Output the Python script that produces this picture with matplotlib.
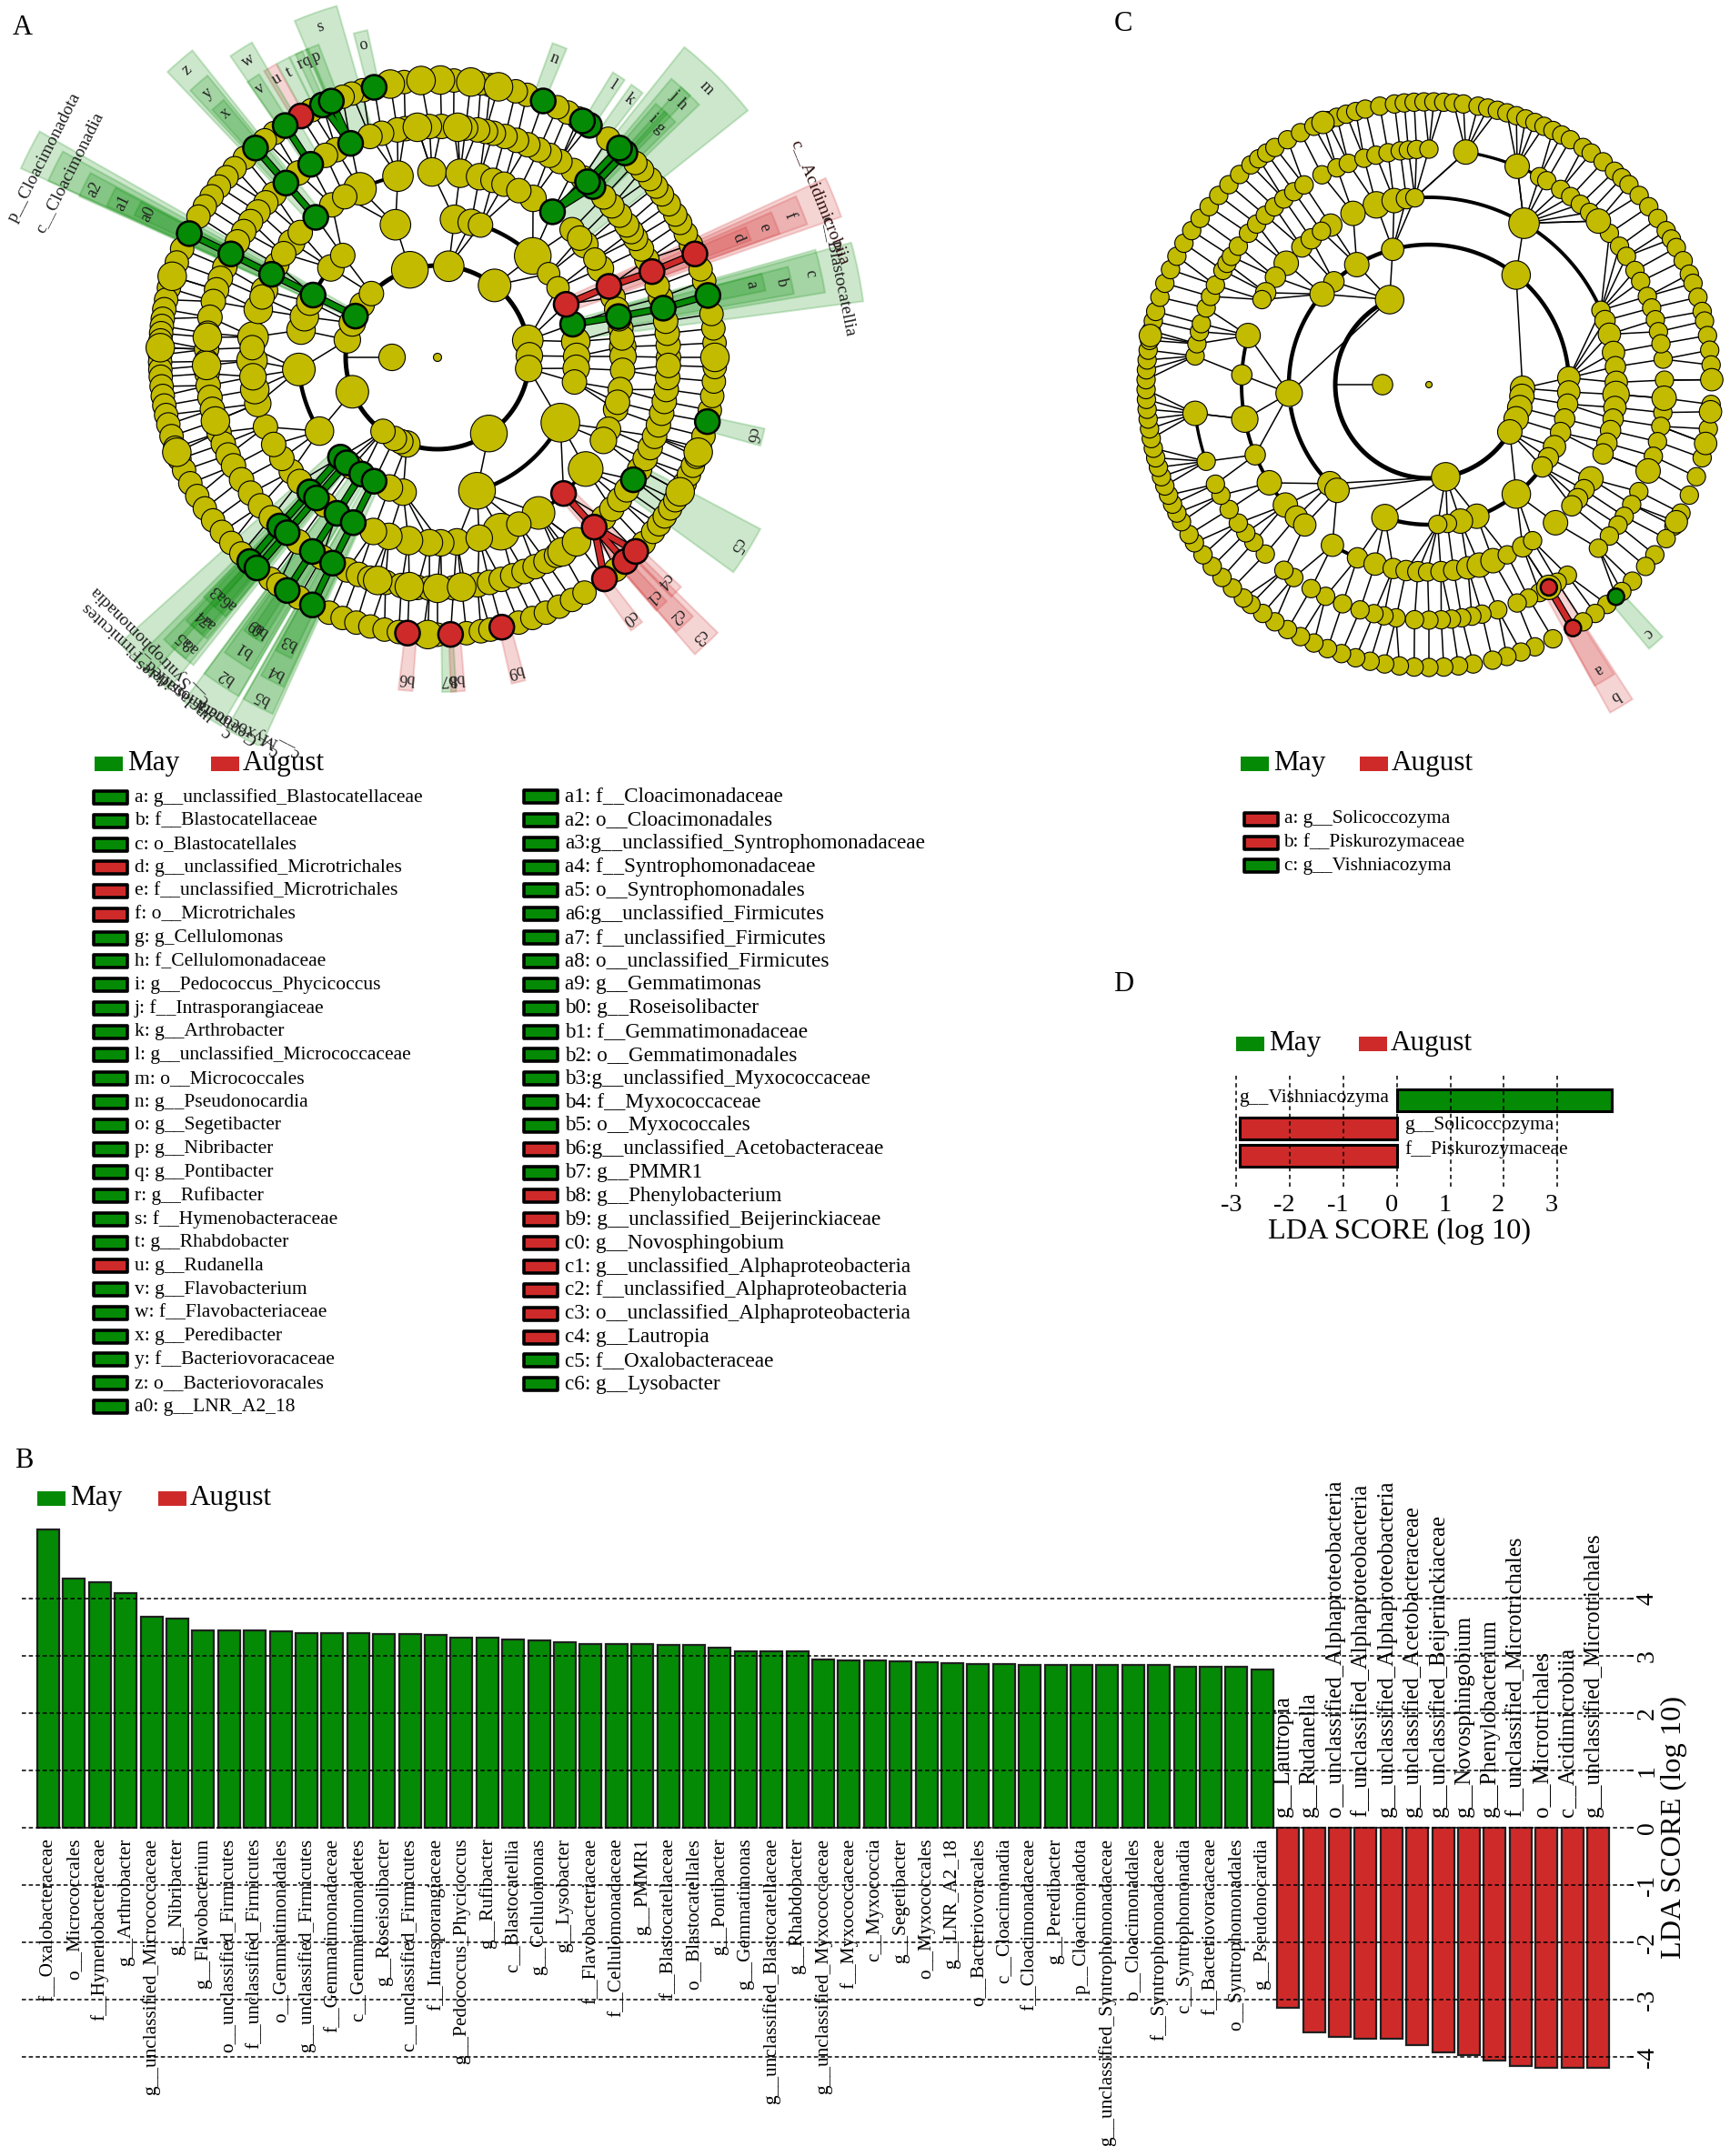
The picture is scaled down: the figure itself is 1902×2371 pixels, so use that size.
import numpy as np
import matplotlib
matplotlib.use('Agg')
import matplotlib.pyplot as plt
from matplotlib.patches import Circle, Wedge, Rectangle
from matplotlib.transforms import ScaledTranslation

plt.rcParams['font.family'] = ['Liberation Serif', 'DejaVu Serif']
plt.rcParams['axes.unicode_minus'] = False

W, H = 1902, 2371
GREEN = '#058a05'
RED = '#cf2a2a'
YELLOW = '#c2bb00'

# panel B
b_labels = ['f__Oxalobacteraceae', 'o__Micrococcales', 'f__Hymenobacteraceae', 'g__Arthrobacter',
            'g__unclassified_Micrococcaceae', 'g__Nibribacter', 'g__Flavobacterium', 'o__unclassified_Firmicutes',
            'f__unclassified_Firmicutes', 'o__Gemmatimonadales', 'g__unclassified_Firmicutes', 'f__Gemmatimonadaceae',
            'c__Gemmatimonadetes', 'g__Roseisolibacter', 'c__unclassified_Firmicutes', 'f__Intrasporangiaceae',
            'g__Pedococcus_Phycicoccus', 'g__Rufibacter', 'c__Blastocatellia', 'g__Cellulomonas', 'g__Lysobacter',
            'f__Flavobacteriaceae', 'f__Cellulomonadaceae', 'g__PMMR1', 'f__Blastocatellaceae', 'o__Blastocatellales',
            'g__Pontibacter', 'g__Gemmatimonas', 'g__unclassified_Blastocatellaceae', 'g__Rhabdobacter',
            'g__unclassified_Myxococcaceae', 'f__Myxococcaceae', 'c__Myxococcia', 'g__Segetibacter', 'o__Myxococcales',
            'g__LNR_A2_18', 'o__Bacteriovoracales', 'c__Cloacimonadia', 'f__Cloacimonadaceae', 'g__Peredibacter',
            'p__Cloacimonadota', 'g__unclassified_Syntrophomonadaceae', 'o__Cloacimonadales', 'f__Syntrophomonadaceae',
            'c__Syntrophomonadia', 'f__Bacteriovoracaceae', 'o__Syntrophomonadales', 'g__Pseudonocardia']
b_values = [5.22, 4.35, 4.29, 4.10, 3.69, 3.66, 3.45, 3.45, 3.45, 3.43, 3.41, 3.41, 3.41, 3.39, 3.38, 3.37,
            3.33, 3.32, 3.29, 3.27, 3.24, 3.22, 3.22, 3.21, 3.19, 3.19, 3.15, 3.09, 3.09, 3.08, 2.94, 2.93,
            2.93, 2.91, 2.90, 2.88, 2.86, 2.86, 2.85, 2.84, 2.84, 2.84, 2.84, 2.84, 2.82, 2.82, 2.81, 2.77]
b_red_labels = ['g__Lautropia', 'g__Rudanella', 'o__unclassified_Alphaproteobacteria',
                'f__unclassified_Alphaproteobacteria', 'g__unclassified_Alphaproteobacteria',
                'g__unclassified_Acetobacteraceae', 'g__unclassified_Beijerinckiaceae', 'g__Novosphingobium',
                'g__Phenylobacterium', 'f__unclassified_Microtrichales', 'o__Microtrichales', 'c__Acidimicrobiia',
                'g__unclassified_Microtrichales']
b_red_values = [-3.14, -3.56, -3.64, -3.67, -3.68, -3.78, -3.92, -3.96, -4.06, -4.16, -4.18, -4.18, -4.19]

# panel D
d_labels = ['g__Vishniacozyma', 'g__Solicoccozyma', 'f__Piskurozymaceae']
d_values = [4.02, -2.93, -2.93]

# legend of panel A, colour code: g May, r August
leg1 = ['a: g__unclassified_Blastocatellaceae', 'b: f__Blastocatellaceae', 'c: o_Blastocatellales',
        'd: g__unclassified_Microtrichales', 'e: f__unclassified_Microtrichales', 'f: o__Microtrichales',
        'g: g_Cellulomonas', 'h: f_Cellulomonadaceae', 'i: g__Pedococcus_Phycicoccus', 'j: f__Intrasporangiaceae',
        'k: g__Arthrobacter', 'l: g__unclassified_Micrococcaceae', 'm: o__Micrococcales', 'n: g__Pseudonocardia',
        'o: g__Segetibacter', 'p: g__Nibribacter', 'q: g__Pontibacter', 'r: g__Rufibacter', 's: f__Hymenobacteraceae',
        't: g__Rhabdobacter', 'u: g__Rudanella', 'v: g__Flavobacterium', 'w: f__Flavobacteriaceae', 'x: g__Peredibacter',
        'y: f__Bacteriovoracaceae', 'z: o__Bacteriovoracales', 'a0: g__LNR_A2_18']
leg1_col = 'gggrrrggggggggggggggrgggggg'
leg2 = ['a1: f__Cloacimonadaceae', 'a2: o__Cloacimonadales', 'a3:g__unclassified_Syntrophomonadaceae',
        'a4: f__Syntrophomonadaceae', 'a5: o__Syntrophomonadales', 'a6:g__unclassified_Firmicutes',
        'a7: f__unclassified_Firmicutes', 'a8: o__unclassified_Firmicutes', 'a9: g__Gemmatimonas', 'b0: g__Roseisolibacter',
        'b1: f__Gemmatimonadaceae', 'b2: o__Gemmatimonadales', 'b3:g__unclassified_Myxococcaceae', 'b4: f__Myxococcaceae',
        'b5: o__Myxococcales', 'b6:g__unclassified_Acetobacteraceae', 'b7: g__PMMR1', 'b8: g__Phenylobacterium',
        'b9: g__unclassified_Beijerinckiaceae', 'c0: g__Novosphingobium', 'c1: g__unclassified_Alphaproteobacteria',
        'c2: f__unclassified_Alphaproteobacteria', 'c3: o__unclassified_Alphaproteobacteria', 'c4: g__Lautropia',
        'c5: f__Oxalobacteraceae', 'c6: g__Lysobacter']
leg2_col = 'gggggggggggggggrgrrrrrrrgg'
leg_c = ['a: g__Solicoccozyma', 'b: f__Piskurozymaceae', 'c: g__Vishniacozyma']
leg_c_col = 'rrg'

# cladogram A: ring radii, yellow nodes as angle (deg) and node radius
a_radii = [0, 50, 101, 153, 204, 254, 305]
a_ring2 = [10.7, 1, 353, 304, 250.5, 246.5, 242, 233.6, 202, 169, 158, 145, 136, 107.5, 83, 51.6]
a_ring2_size = [15, 13, 13, 18, 13, 12, 12, 12, 16, 13, 13, 12, 12, 18, 15, 16]
a_ring3 = [46.8, 6.5, 0.4, 355.5, 349.8, 332, 286.5, 255.7, 249.8, 232, 212, 185, 168.7, 163, 156.6, 140, 132.9, 107.6,
           83, 76, 72, 37, 30]
a_ring3_size = [18, 14, 13, 13, 12, 19, 18, 13, 13, 12, 14, 16, 14, 14, 13, 13, 12, 15, 14, 13, 12, 11, 11]
a_ring4 = [114.7, 102.3, 91.7, 83, 76.9, 72.6, 69, 59, 43.5, 37.4, 28.6, 18.9, 15, 9, 3.3, 0.3, 356, 350, 343.7, 337.2,
           333.4, 323, 303, 290, 276, 271, 267.5, 261, 254.8, 249.8, 232.7, 218, 213, 202, 194.4, 190, 181, 173.7, 165,
           158.8, 150, 141.8, 137.7, 124.7, 120, 146, 161, 177, 186, 208, 222, 296, 283, 346, 6, 12, 32, 40, 64]
a_ring4_size = [16, 15, 14, 14, 13, 12, 12, 13, 12, 13, 13, 12, 12, 12, 13, 13, 12, 12, 12, 12, 13, 17, 16, 18, 13, 13, 13,
                14, 13, 13, 12, 12, 12, 12, 13, 14, 15, 15, 14, 13, 12, 13, 12, 12, 12, 12, 12, 12, 13, 12, 12, 12, 13,
                12, 12, 12, 11, 12, 12]
a_ring5 = [0, 3, 6, 9, 15, 18, 25, 28, 31, 33, 35, 38, 41, 44, 51, 54, 58, 61, 64, 67, 70, 73, 76, 78, 80, 83, 86, 89, 92,
           95, 98, 100, 104, 107, 116, 119, 127, 135, 138, 141, 144, 147, 150, 157, 160, 163, 166, 170, 174, 178, 181,
           184, 187, 190, 193, 196, 199, 202, 205, 208, 212, 216, 220, 224, 233, 240, 247, 250, 253, 257, 261, 265, 268,
           271, 274, 277, 280, 283, 286, 289, 292, 295, 298, 301, 304, 307, 316, 319, 322, 325, 331, 334, 337, 340, 343,
           346, 349, 352, 355, 358]
a_ring5_big = [85, 95, 255, 263, 270, 276, 302.6, 307, 175, 182, 196]
a_ring6 = [3, 6, 9, 16, 18.5, 24, 26.5, 29, 31, 33.5, 36, 38, 40, 42.5, 44.5, 52, 59.5, 62, 64.4, 71.2, 73.6, 79, 81, 86.6,
           96.9, 105.6, 108, 110, 117, 126, 128.5, 134, 137, 139.5, 142, 144.5, 147, 149.5, 157, 160, 163, 165.5, 168, 170,
           172, 173.5, 175, 176.5, 178, 179.5, 181, 182.5, 184, 186, 188, 190, 192, 194, 196.5, 199, 201.5, 204, 207, 210,
           213, 216, 219, 222, 225, 233, 235, 240, 247, 250, 253, 256, 259, 262, 267, 270, 276, 279, 281, 287, 290, 293,
           296, 299, 302, 310, 318, 321, 323, 325, 327, 329, 331, 333, 335, 337, 339, 341, 343.5, 349, 352, 355, 358]
a_ring6_big = [89.4, 83.1, 93.4, 77.3, 99.8, 0, 163, 178, 200, 268, 331, 340]
a_arcs_ring = [2, 3, 3, 3, 3, 3, 4, 4, 4]
a_arcs_from = [0, 22, 286, 135, 186, 225, 102, 290, 29]
a_arcs_to = [360, 72, 332, 170, 212, 256, 115, 323, 44]
# coloured nodes: ring index, angle, colour
a_hit_ring = [6, 5, 4, 3, 6, 5, 4, 3, 6, 6, 5, 5, 4, 6, 6, 6, 6, 6, 6, 5, 6, 6, 5, 6, 5, 4, 6, 5, 4, 3, 2, 6, 6, 5, 5, 4, 4, 3,
              3, 6, 5, 4, 3, 6, 5, 4, 3, 6, 6, 6, 6, 6, 6, 5, 4, 6, 5]
a_hit_angle = [12.9, 12.3, 12.7, 13.8, 21.9, 21.8, 22.5, 22.4, 47.5, 49, 47.7, 49.5, 51.7, 56.8, 58.5, 67.6, 103.2, 114.5,
               112.5, 112.1, 119.5, 123.3, 123.3, 131, 131, 131, 153.5, 153.4, 153.4, 153.4, 153.3, 227.4, 229.4, 226.9,
               229.4, 226.5, 229.3, 225.8, 229.3, 237.2, 237.2, 237.2, 237, 243.2, 243, 243, 242.9, 263.8, 272.7, 283.4,
               307, 312.6, 315.6, 312.7, 312.8, 346.6, 328]
a_hit_col = 'gggg' + 'rrrr' + 'g' * 12 + 'r' + 'g' * 26 + 'r' * 8 + 'gg'
# shaded clades: label, angle, half width, inner and outer radius, colour, label radius
a_cl_label = ['a', 'b', 'c', 'c__Blastocatellia', 'd', 'e', 'f', 'c__Acidimicrobiia', 'g', 'h', 'i', 'j', 'k', 'l', 'm', 'n', 'o',
              'p', 'q', 'r', 's', 't', 'u', 'v', 'w', 'x', 'y', 'z', 'a0', 'a1', 'a2', 'c__Cloacimonadia', 'p__Cloacimonadota',
              'a3', 'a4', 'a5', 'a6', 'a7', 'a8', 'c__Syntrophomonadia', 'c__unclassified_Firmicutes', 'a9', 'b0', 'b1', 'b2',
              'c__Gemmatimonadetes', 'b3', 'b4', 'b5', 'c__Myxococcia', 'b6', 'b7', 'b8', 'b9', 'c0', 'c1', 'c2', 'c3', 'c4', 'c5', 'c6']
a_cl_angle = [13, 12.3, 12.7, 11.5, 21.7, 21.7, 22, 22, 46, 46, 48, 48, 53.4, 57.2, 45, 68.6, 103.3, 112, 113.9, 115, 109.5,
              117.5, 120, 123.4, 122.5, 131, 131, 131, 153.6, 153.8, 153.9, 153.4, 153, 227, 228, 228, 229.5, 229, 229.5, 225,
              228, 236, 237, 236.7, 236.6, 236.6, 242.6, 243, 242.8, 243, 264.5, 272, 273.5, 284, 306.5, 312, 312.8, 313.2,
              315.5, 328, 346.2]
a_cl_half = [1.5, 2.2, 3.2, 4, 1.2, 1.8, 2.2, 2.8, 1.3, 2, 1.3, 2, 1.2, 1.2, 6.5, 1.3, 1.2, 1.2, 1.2, 1.2, 3.5, 1.2, 1.2, 1.2, 2,
             1.3, 1.8, 2.4, 1.3, 1.6, 1.9, 2.2, 2.6, 1.3, 1.7, 2.1, 1.3, 1.7, 2.1, 3, 3, 1.3, 1.3, 2.5, 3, 3, 1.5, 2, 2.4, 2.6, 1.2,
             1.2, 1.2, 1.2, 1.2, 1.2, 1.8, 2.3, 1.2, 4, 1.5]
a_cl_in = [305, 254, 204, 153, 305, 254, 204, 153, 305, 254, 305, 254, 305, 305, 204, 305, 305, 305, 305, 305, 254, 305,
           305, 305, 254, 305, 254, 204, 305, 254, 204, 153, 101, 305, 254, 204, 305, 254, 204, 153, 153, 305, 305, 254, 204,
           153, 305, 254, 204, 153, 305, 305, 305, 305, 305, 305, 254, 204, 305, 254, 305]
a_cl_out = [368, 398, 432, 472, 368, 400, 432, 470, 368, 400, 368, 400, 368, 368, 436, 368, 368, 368, 368, 368, 402, 368,
            368, 368, 402, 368, 400, 432, 368, 400, 432, 470, 503, 368, 400, 432, 368, 400, 432, 470, 470, 368, 368, 400, 432,
            470, 368, 400, 432, 470, 368, 368, 368, 368, 368, 368, 400, 432, 368, 402, 368]
a_cl_lr = [354, 387, 420, 450, 355, 386, 417, 454, 351, 386, 354, 388, 354, 356, 419, 353, 353, 356, 356, 356, 386, 353, 353,
           354, 387, 355, 385, 419, 355, 385, 420, 453, 485, 353, 384, 417, 353, 384, 417, 448, 462, 356, 356, 384, 420, 462,
           352, 388, 420, 458, 354, 354, 354, 355, 355, 354, 387, 421, 350, 389, 356]
a_cl_col = 'gggg' + 'rrrr' + 'g' * 14 + 'r' + 'g' * 27 + 'r' + 'g' + 'r' * 7 + 'gg'

# cladogram C
c_radii = [0, 51, 103, 154, 206, 259, 311]
c_ring2 = [114.8, 280.3, 357.8, 352.8, 345.8, 338.6, 329.7]
c_ring2_size = [14, 14, 12, 12, 12, 12, 12]
c_ring3 = [183.5, 105, 121, 132.7, 139.7, 51.5, 2.8, 357, 352, 345.8, 340, 333.7, 328.5, 324, 308.6, 290, 283, 277.6, 273.6,
           251.7, 225, 229]
c_ring3_size = [13, 11, 12, 10, 12, 14, 11, 11, 10, 10, 10, 11, 10, 10, 14, 12, 12, 9, 9, 13, 12, 12]
c_ring4 = [177, 190.6, 164.8, 202, 211.6, 220, 225, 228.5, 239, 247.6, 253.3, 259, 263, 266.6, 269.6, 273.7, 277.6, 282, 285.6,
           290, 294.7, 300, 303.6, 312.5, 23.4, 20, 15.6, 9.9, 5.5, 0.7, 357, 353, 349.4, 345.8, 341.8, 338.3, 329.8, 325.9,
           322.5, 319.7, 106.3, 100.7, 96.9, 94.3, 59.5, 113.9, 121.6, 132.7, 128.9, 125, 139.6, 145, 150.6, 153]
c_ring4_size = [10, 13, 12, 10, 12, 12, 11, 11, 11, 10, 11, 10, 10, 10, 9, 10, 10, 11, 12, 12, 9, 10, 9, 12, 9, 10, 11, 11, 10, 11,
                13, 11, 10, 10, 10, 10, 12, 10, 10, 10, 13, 12, 10, 9, 15, 12, 11, 10, 10, 9, 12, 10, 10, 9]
c_ring5 = [6.2, 1.1, 356.7, 353.2, 349.8, 346, 342.3, 338.5, 333, 329.4, 326, 323.4, 320, 316, 306, 303, 298, 295, 292, 287, 283,
           280.5, 278, 275.5, 273, 270, 266.5, 262, 259, 256.5, 253, 248.5, 244, 240, 235, 232, 226, 222, 219, 216, 212, 208, 205,
           199, 187, 173, 170, 167, 165, 161, 158, 155, 151, 149, 147, 144, 140, 137, 134, 131, 128, 125, 122, 117, 113, 110, 106,
           103, 100, 97, 95, 93, 90, 81, 68, 62, 60, 56, 53, 50, 47, 44, 40, 36, 33, 29, 26, 22, 19, 16, 13, 10]
c_ring5_big = [356.7, 81, 68, 44, 187, 338.5, 300.6]
c_ring6 = [351, 348, 345, 341, 337, 333, 330, 327, 323, 320, 316, 313, 309, 306, 303, 296, 292, 289, 286, 283, 279, 276, 273,
           270, 267, 264, 261, 258, 255, 252, 249, 246, 243, 240, 237, 234, 231, 229, 226, 223, 220, 217, 214, 212, 209, 207, 205,
           203, 201, 199, 197, 195, 193, 191, 189, 187, 185, 183, 181, 179, 177, 175, 173, 171, 169, 167, 165, 162, 159, 156, 153,
           150, 147, 144, 141, 138, 135, 132, 129, 127, 125, 123, 120, 117, 114, 111, 109, 107, 105, 103, 100, 97, 95, 93, 91, 89, 87,
           85, 83, 80, 78, 76, 74, 72, 70, 68, 66, 64, 62, 60, 57, 55, 52, 49, 47, 45, 42, 39, 36, 33, 31, 29, 26, 23, 21, 18, 15, 13,
           10, 7, 4, 1, 356]
c_ring6_big = [354.5, 1, 112, 170, 348, 331]
c_arcs_ring = [2, 3, 3, 3, 3, 4, 4, 4, 5, 5]
c_arcs_from = [115, 3, 190, 251, 290, 23, 165, 240, 58, 186]
c_arcs_to = [358, 184, 225, 274, 325, 94, 228, 254, 81, 199]
c_hit_ring = [5, 6, 6]
c_hit_angle = [300.6, 300.6, 311.4]
c_hit_col = 'rrg'
c_cl_label = ['a', 'b', 'c']
c_cl_angle = [300.7, 300.9, 311.3]
c_cl_half = [1.9, 2.0, 1.5]
c_cl_in = [311, 259, 311]
c_cl_out = [378, 412, 378]
c_cl_lr = [364, 399, 364]
c_cl_col = 'rrg'

fig = plt.figure(figsize=(W / 100, H / 100), dpi=100)
fig.patch.set_facecolor('white')


def px_axes(l, t, r, b):
    ax = fig.add_axes([l / W, 1 - b / H, (r - l) / W, (b - t) / H])
    ax.patch.set_alpha(0)
    return ax


def col(c):
    return GREEN if c == 'g' else RED


def polar(r, ang):
    return r * np.cos(np.radians(ang)), r * np.sin(np.radians(ang))


def nearest(ang, candidates):
    d = np.abs((np.asarray(candidates) - ang + 180) % 360 - 180)
    return candidates[int(np.argmin(d))]


def cladogram(ax, radii, rings, sizes, arcs, hits, clades, centre_r, clade_font, hit_r, grow):
    h_ring, h_ang, h_col = hits
    # shaded sectors
    for lab, a, hw, r0, r1, c, lr in zip(*clades):
        ax.add_patch(Wedge((0, 0), r1, a - hw, a + hw, width=r1 - r0, fc=col(c), ec=col(c), alpha=0.2, lw=1.5, zorder=1))
    # links from nodes to the nearest node of the inner ring
    all_rings = {i: list(rings[i]) + [a for rr, a in zip(h_ring, h_ang) if rr == i] for i in rings}
    for i in rings:
        if i <= 2:
            continue
        for a in all_rings[i]:
            p = nearest(a, all_rings[i - 1])
            x0, y0 = polar(radii[i], a)
            x1, y1 = polar(radii[i - 1], p)
            ax.plot([x0, x1], [y0, y1], color='black', lw=1.1, zorder=2, solid_capstyle='butt')
    ax.plot([-radii[1], -radii[2]], [0, 0], color='black', lw=1.1, zorder=2)
    # sibling arcs
    for i, a0, a1 in zip(*arcs):
        t = np.radians(np.arange(a0, a1 + 1))
        ax.plot(radii[i] * np.cos(t), radii[i] * np.sin(t), color='black', lw={2: 3.6, 3: 3.2, 4: 2.8, 5: 2.4}[i], zorder=2)
    # coloured branches
    for i, a, c in zip(h_ring, h_ang, h_col):
        same = [b for rr, b, cc in zip(h_ring, h_ang, h_col) if rr == i - 1 and cc == c]
        if same:
            p = nearest(a, same)
            if abs((p - a + 180) % 360 - 180) < 6:
                x0, y0 = polar(radii[i], a)
                x1, y1 = polar(radii[i - 1], p)
                ax.plot([x0, x1], [y0, y1], color='black', lw=6, zorder=3, solid_capstyle='butt')
                ax.plot([x0, x1], [y0, y1], color=col(c), lw=4.2, zorder=3.1, solid_capstyle='butt')
    # yellow nodes, outer rings first
    for i in sorted(rings, reverse=True):
        for a, s in zip(rings[i], sizes[i]):
            ax.add_patch(Circle(polar(radii[i], a), s * grow, fc=YELLOW, ec='black', lw=0.8, zorder=4))
    for i, a, c in zip(h_ring, h_ang, h_col):
        ax.add_patch(Circle(polar(radii[i], a), hit_r, fc=col(c), ec='black', lw=1.8, zorder=5))
    ax.add_patch(Circle((0, 0), centre_r, fc=YELLOW, ec='black', lw=0.8, zorder=4))
    # labels are perpendicular to the radius
    for lab, a, hw, r0, r1, c, lr in zip(*clades):
        x, y = polar(lr, a)
        long_one = len(lab) > 2
        ax.text(x, y, lab, rotation=a - 90, rotation_mode='anchor', ha='center', va='center',
                fontsize=clade_font if long_one else 13, color='#301010' if c == 'r' and long_one else '#202020', zorder=6)


# panel A
ax_a = px_axes(0, 0, 960, 820)
ax_a.set_xlim(-481, 479)
ax_a.set_ylim(-427, 393)
ax_a.axis('off')
rings_a = {1: [180], 2: a_ring2, 3: a_ring3, 4: a_ring4, 5: a_ring5 + a_ring5_big, 6: a_ring6 + a_ring6_big}
sizes_a = {1: [13], 2: a_ring2_size, 3: a_ring3_size, 4: a_ring4_size,
           5: [12] * len(a_ring5) + [14] * len(a_ring5_big), 6: [11.5] * len(a_ring6) + [14] * len(a_ring6_big)}
cladogram(ax_a, a_radii, rings_a, sizes_a, (a_arcs_ring, a_arcs_from, a_arcs_to), (a_hit_ring, a_hit_angle, a_hit_col),
          (a_cl_label, a_cl_angle, a_cl_half, a_cl_in, a_cl_out, a_cl_col, a_cl_lr), 4.5, 14, 13.5, 1.12)

# panel C
ax_c = px_axes(1200, 0, 1902, 800)
ax_c.set_xlim(-371, 331)
ax_c.set_ylim(-377, 423)
ax_c.axis('off')
rings_c = {1: [180], 2: c_ring2, 3: c_ring3, 4: c_ring4, 5: c_ring5 + c_ring5_big, 6: c_ring6 + c_ring6_big}
sizes_c = {1: [10], 2: c_ring2_size, 3: c_ring3_size, 4: c_ring4_size,
           5: [9] * len(c_ring5) + [12] * len(c_ring5_big), 6: [9] * len(c_ring6) + [11] * len(c_ring6_big)}
cladogram(ax_c, c_radii, rings_c, sizes_c, (c_arcs_ring, c_arcs_from, c_arcs_to), (c_hit_ring, c_hit_angle, c_hit_col),
          (c_cl_label, c_cl_angle, c_cl_half, c_cl_in, c_cl_out, c_cl_col, c_cl_lr), 3.5, 14, 9, 1.12)

# panel B
ax_b = px_axes(24, 1660, 1792, 2300)
ax_b.set_xlim((24 - 53) / 28.4, (1792 - 53) / 28.4)
ax_b.set_ylim((2010.4 - 2300) / 63, (2010.4 - 1660) / 63)
n_g = len(b_values)
ax_b.bar(np.arange(n_g), b_values, width=0.84, color=GREEN, edgecolor='#202020', lw=1.6)
ax_b.bar(np.arange(n_g, n_g + len(b_red_values)), b_red_values, width=0.84, color=RED, edgecolor='#202020', lw=1.6)
ax_b.set_axisbelow(False)
ax_b.set_yticks(np.arange(-4, 5))
ax_b.grid(axis='y', color='black', ls=(0, (3, 2)), lw=1.1)
ax_b.set_xticks([])
for s in ax_b.spines.values():
    s.set_visible(False)
ax_b.yaxis.tick_right()
ax_b.tick_params(axis='y', length=3, width=1.4, pad=2, labelsize=20, labelrotation=90)
for t in ax_b.get_yticklabels():
    t.set_va('center')
for i, lab in enumerate(b_labels):
    ax_b.annotate(lab, (i, 0), xytext=(0, -8), textcoords='offset points', rotation=90, ha='center',
                  va='top', fontsize=15.3, annotation_clip=False)
for i, lab in enumerate(b_red_labels):
    ax_b.annotate(lab, (i + n_g, 0), xytext=(-4, 9), textcoords='offset points', rotation=90, ha='center',
                  va='bottom', fontsize=17.8, annotation_clip=False)

# panel D
ax_d = px_axes(1359 - 59, 1182.7, 1780, 1305)
ax_d.set_xlim(-(1535.7 - 1300) / 58.8, (1780 - 1535.7) / 58.8)
ax_d.set_ylim(1305, 1182.7)
d_centre = [1209.7, 1241, 1271.5]
ax_d.barh(d_centre, d_values, height=24, color=[GREEN, RED, RED], edgecolor='black', lw=2.2)
ax_d.set_axisbelow(False)
ax_d.set_xticks(np.arange(-3, 4))
ax_d.grid(axis='x', color='black', ls=(0, (3, 2.5)), lw=1.1)
ax_d.set_yticks([])
for s in ax_d.spines.values():
    s.set_visible(False)
ax_d.tick_params(axis='x', length=0, pad=6, labelsize=20.5)
shift = ScaledTranslation(-6 / 100, 0, fig.dpi_scale_trans)
for t in ax_d.get_xticklabels():
    t.set_transform(t.get_transform() + shift)
ax_d.text(-0.15, d_centre[0] - 2, d_labels[0], ha='right', va='center', fontsize=15.5)
ax_d.text(0.15, d_centre[1] - 3, d_labels[1], ha='left', va='center', fontsize=15.5)
ax_d.text(0.15, d_centre[2] - 7, d_labels[2], ha='left', va='center', fontsize=15.5)

# overlay in pixels for legends and captions
ov = fig.add_axes([0, 0, 1, 1])
ov.set_xlim(0, W)
ov.set_ylim(H, 0)
ov.axis('off')
ov.patch.set_alpha(0)


def may_august(x0, x1, y):
    ov.add_patch(Rectangle((x0, y - 8), 31, 16, fc=GREEN))
    ov.text(x0 + 36, y, 'May', fontsize=22.5, va='center', ha='left')
    ov.add_patch(Rectangle((x1, y - 8), 31, 16, fc=RED))
    ov.text(x1 + 35, y - 1, 'August', fontsize=22.5, va='center', ha='left')


def key_list(labels, colours, x, y0, step, font, rect_w, text_dx):
    for i, (lab, c) in enumerate(zip(labels, colours)):
        y = y0 + i * step
        ov.add_patch(Rectangle((x, y - 7), rect_w, 14, fc=col(c), ec='black', lw=2.6, joinstyle='round'))
        ov.text(x + text_dx, y, lab, fontsize=font, va='center', ha='left')


may_august(104, 232, 840)
key_list(leg1, leg1_col, 103, 877, 25.77, 15.5, 37, 45)
key_list(leg2, leg2_col, 576, 876, 25.85, 16.7, 37, 45)
may_august(1364, 1495, 840)
key_list(leg_c, leg_c_col, 1367.5, 901, 25.5, 15.3, 37, 44)
may_august(1359, 1494, 1148)
may_august(41, 174, 1648)
ov.text(1538, 1354, 'LDA SCORE (log 10)', fontsize=23.3, ha='center', va='center')
ov.text(1840, 2009, 'LDA SCORE (log 10)', fontsize=23.3, ha='center', va='center', rotation=90)
for lab, x, y in zip('ABCD', [25, 26, 1235, 1235], [30, 1606, 27, 1082]):
    ov.text(x, y, lab, fontsize=22, ha='center', va='center')

fig.savefig('out.png', dpi=100)
